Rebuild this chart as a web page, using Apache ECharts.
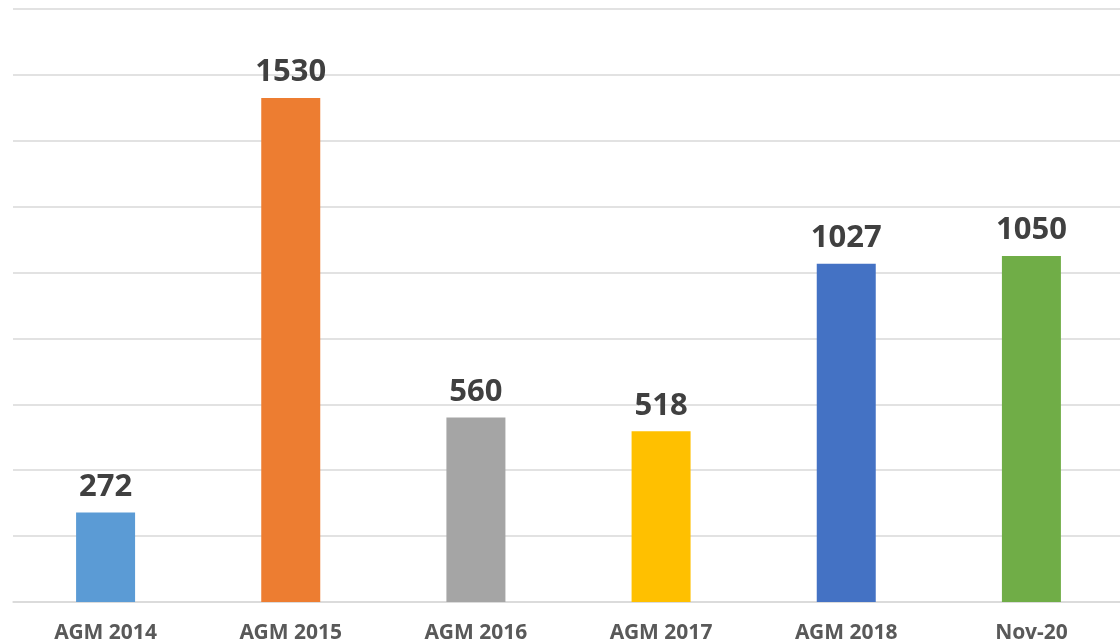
<!DOCTYPE html>
<html><head><meta charset="utf-8">
<script src="https://cdn.jsdelivr.net/npm/echarts@6/dist/echarts.min.js"></script>
<style>html,body{margin:0;padding:0;background:#fff;overflow:hidden;width:1120px;height:644px}#c{width:1124px;height:644px}</style>
</head><body><div id="c"></div>
<script>
const categories = ['AGM 2014','AGM 2015','AGM 2016','AGM 2017','AGM 2018','Nov-20'];
const values = [272, 1530, 560, 518, 1027, 1050];
const colors = ['#5B9BD5','#ED7D31','#A5A5A5','#FFC000','#4472C4','#70AD47'];

const chart = echarts.init(document.getElementById('c'));
chart.setOption({
  animation: false,
  backgroundColor: '#fff',
  grid: { left: 13, right: 0, top: 9, bottom: 42, containLabel: false },
  xAxis: {
    type: 'category', data: categories,
    axisLine: { show: true, lineStyle: { color: '#D9D9D9', width: 1.5 } },
    axisTick: { show: false },
    axisLabel: { color: '#595959', fontFamily: 'Noto Sans', fontWeight: 'bold', fontSize: 21, margin: 21 }
  },
  yAxis: {
    type: 'value', min: 0, max: 1800, interval: 200,
    axisLabel: { show: false }, axisLine: { show: false }, axisTick: { show: false },
    splitLine: { lineStyle: { color: '#D9D9D9', width: 1.5 } }
  },
  series: [{
    type: 'bar', barWidth: 59,
    data: values.map((v, i) => ({ value: v, itemStyle: { color: colors[i] } })),
    label: { show: true, position: 'top', distance: 10, color: '#404040', fontFamily: 'Noto Sans', fontWeight: 'bold', fontSize: 31 }
  }]
});
</script></body></html>
